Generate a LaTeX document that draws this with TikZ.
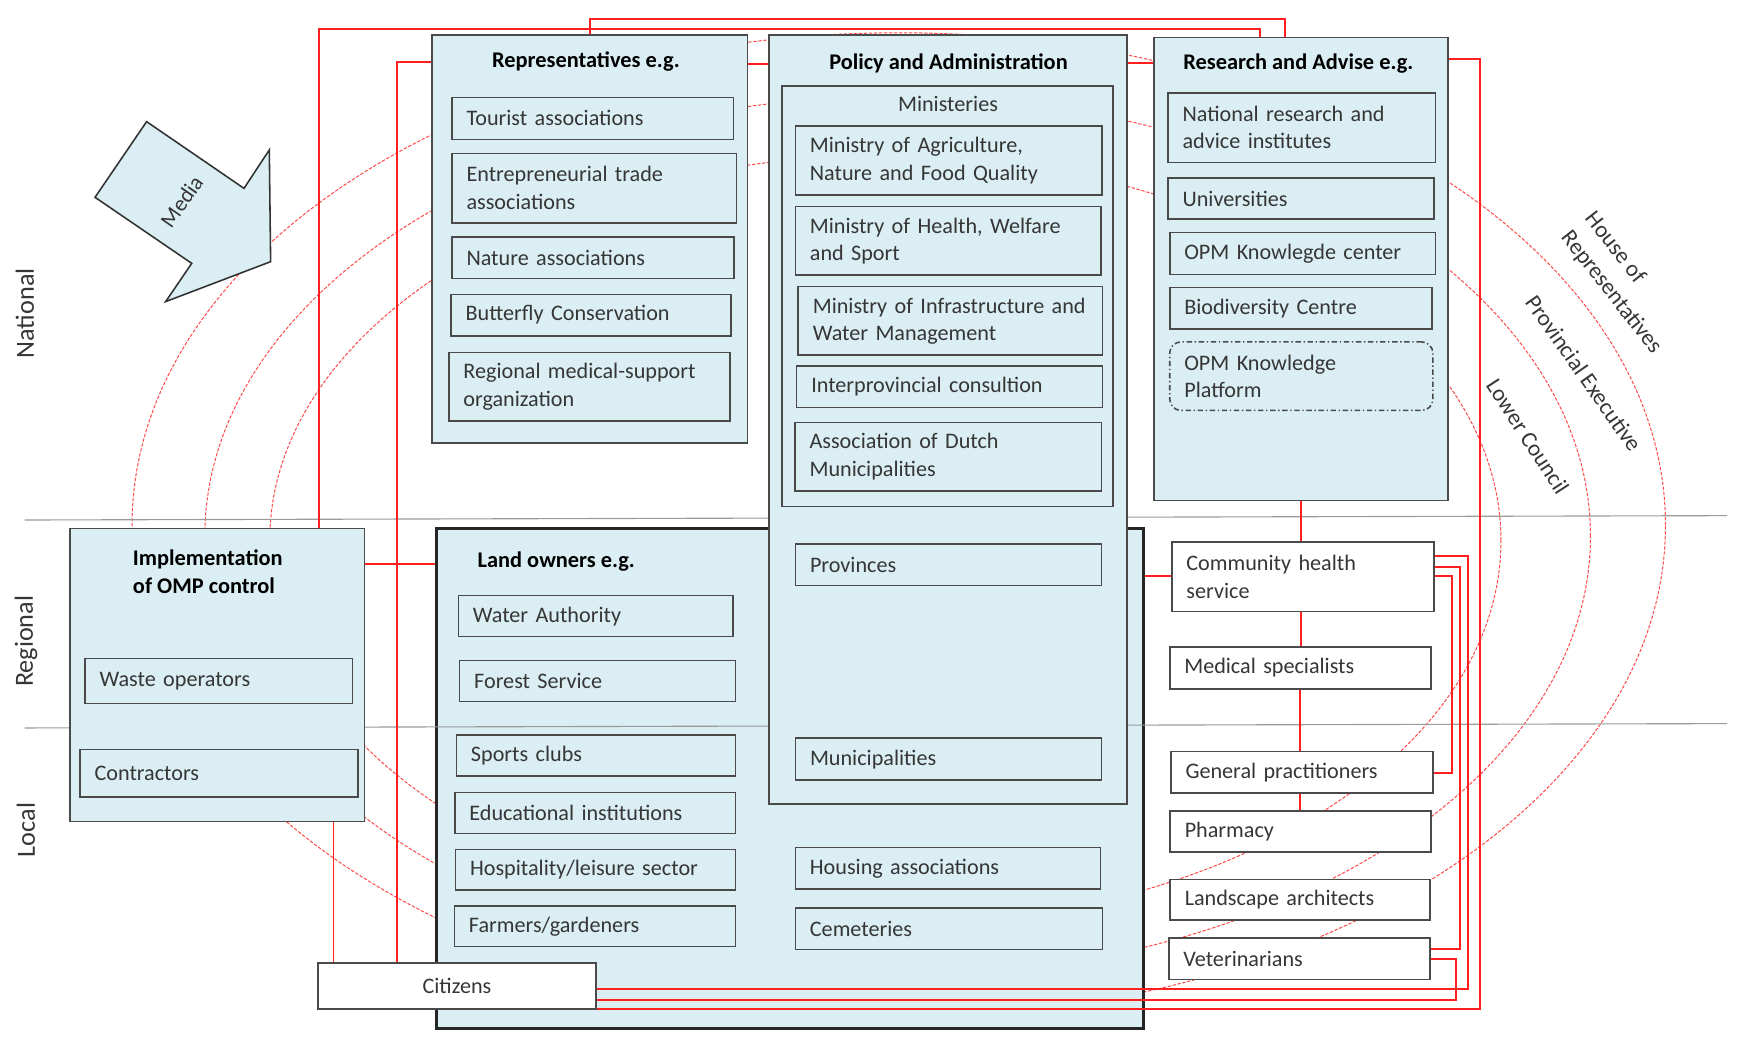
\documentclass[tikz,border=0pt]{standalone}
\usepackage{fontspec}
\setmainfont{Carlito}
\definecolor{boxfill}{HTML}{DAEEF3}
\definecolor{boxline}{HTML}{4A4A4A}
\definecolor{txt}{HTML}{363636}
\definecolor{lvl}{HTML}{9A9A9A}
\definecolor{rline}{HTML}{FF1F1F}
\definecolor{rdash}{HTML}{FF4A4A}

\newcommand\mkbox[7][]{%
  \pgfmathsetmacro\mkw{(#5-#3)*0.5}%
  \pgfmathsetmacro\mkh{(#6-#4)*0.5}%
  \pgfmathsetmacro\mktw{\mkw-13}%
  \node[#1, minimum width=\mkw pt, minimum height=\mkh pt, text width=\mktw pt]
    (#2) at ({(#3+#5)/2},{(#4+#6)/2}) {#7};%
}

\tikzset{
  sub/.style={draw=boxline, line width=0.7pt, fill=boxfill, align=left, inner xsep=6.5pt, inner ysep=1pt, text=txt, font=\fontsize{9.9}{12.2}\selectfont},
  wsub/.style={sub, fill=white},
  cont/.style={draw=boxline, line width=0.7pt, fill=boxfill, inner xsep=6.5pt, inner ysep=0pt},
  landcont/.style={draw=black!85, line width=1.2pt, fill=boxfill, inner xsep=6.5pt, inner ysep=0pt},
  platform/.style={sub, dash pattern=on 2.4pt off 1.2pt on 0.6pt off 1.2pt, rounded corners=5pt},
  ttl/.style={font=\bfseries\fontsize{10}{12.2}\selectfont, text=black, inner sep=0pt},
  plain/.style={font=\fontsize{9.9}{12.2}\selectfont, text=txt, inner sep=0pt},
  lvlline/.style={draw=lvl, line width=0.5pt},
  lvllab/.style={font=\fontsize{11.7}{14}\selectfont, text=txt, rotate=90, inner sep=0pt},
  rl/.style={draw=rline, line width=0.85pt},
  ellarc/.style={draw=rdash, line width=0.45pt, dash pattern=on 1.5pt off 0.75pt},
  bodylab/.style={font=\fontsize{10.3}{13.5}\selectfont, text=txt, align=left, inner sep=0pt},
  arrowshape/.style={draw=black!80, line width=0.7pt, fill=boxfill, line join=miter},
}

\begin{document}
\begin{tikzpicture}[x=0.5pt,y=-0.5pt]
\useasboundingbox (0,0) rectangle (1568,940);

% dashed ellipses (behind everything)
\draw[ellarc] (803,469.3) ellipse [x radius=342.5pt, y radius=220pt];
\draw[ellarc] (802,479) ellipse [x radius=309.5pt, y radius=196.5pt];
\draw[ellarc] (791,483) ellipse [x radius=275pt, y radius=172pt];

% land owners container
\mkbox[landcont]{land}{390}{472}{1021.5}{918.7}{}

% level lines
\draw[lvlline] (22,464.6) -- (1543,460.7);
\draw[lvlline] (22,650.4) -- (1543,646.5);

% containers
\mkbox[cont]{rep}{386}{31.3}{668}{396}{}
\mkbox[cont]{pol}{687}{31.3}{1006.7}{718.3}{}
\mkbox[cont]{mins}{698.5}{76.8}{994.2}{452.7}{}
\mkbox[cont]{res}{1030.8}{33.5}{1293.7}{447}{}
\mkbox[cont]{impl}{62.5}{472}{325.5}{734.1}{}

% titles
\node[ttl] (repT) at (523.5,55) {Representatives e.g.};
\node[ttl] (polT) at (847.4,56.6) {Policy and Administration};
\node[plain] (minT) at (847,92.9) {Ministeries};
\node[ttl] (resT) at (1160,56.4) {Research and Advise e.g.};
\node[ttl] (landT) at (497,501.8) {Land owners e.g.};
\node[ttl, align=left] (implT) at (185.7,510.7) {Implementation\\of OMP control};

% representatives
\mkbox[sub]{tour}{403.8}{87}{655.2}{124.5}{Tourist associations}
\mkbox[sub]{entr}{403.8}{137}{658}{199}{Entrepreneurial trade\\associations}
\mkbox[sub]{natu}{403.8}{212}{656}{248.7}{Nature associations}
\mkbox[sub]{butt}{403}{263}{653}{300}{Butterfly Conservation}
\mkbox[sub]{rmso}{401}{315}{652}{376}{Regional medical-support\\organization}

% policy
\mkbox[sub]{mag}{710.6}{112.6}{984.5}{174.2}{Ministry of Agriculture,\\Nature and Food Quality}
\mkbox[sub]{mhw}{710.6}{184.6}{983.5}{245.7}{Ministry of Health, Welfare\\and Sport}
\mkbox[sub]{miw}{713.2}{256.1}{985.2}{317.4}{\mbox{Ministry of Infrastructure and}\\Water Management}
\mkbox[sub]{ipc}{711.8}{327}{985.2}{363.9}{Interprovincial consultion}
\mkbox[sub]{adm}{710.3}{377.3}{984.3}{438.7}{Association of Dutch\\Municipalities}
\mkbox[sub]{prov}{710.7}{486}{984.2}{523.3}{Provinces}
\mkbox[sub]{muni}{710.7}{659.6}{984.2}{696.9}{Municipalities}

% research
\mkbox[sub]{nrai}{1043.6}{83.1}{1282.4}{145.1}{National research and\\advice institutes}
\mkbox[sub]{univ}{1043.6}{158.9}{1281.3}{195.9}{Universities}
\mkbox[sub]{okc}{1045.1}{207.8}{1282.4}{245.1}{OPM Knowlegde center}
\mkbox[sub]{bioc}{1045.1}{257}{1279.4}{293.7}{Biodiversity Centre}
\mkbox[platform]{okp}{1045.1}{305.5}{1280.2}{366.7}{OPM Knowledge\\Platform}

% implementation
\mkbox[sub]{waste}{76}{588.2}{315.1}{628.4}{Waste operators}
\mkbox[sub]{contr}{71.5}{669.5}{320.1}{712.3}{Contractors}

% land owners
\mkbox[sub]{wata}{409.5}{532.2}{655.1}{568.8}{Water Authority}
\mkbox[sub]{fors}{410.7}{590.2}{657.3}{626.9}{Forest Service}
\mkbox[sub]{spor}{407.8}{656.7}{657.3}{693.3}{Sports clubs}
\mkbox[sub]{educ}{406.4}{707.9}{657.3}{744.5}{Educational institutions}
\mkbox[sub]{hosp}{407}{758.8}{657.3}{795.2}{Hospitality/leisure sector}
\mkbox[sub]{farm}{406}{809.4}{657.3}{845.8}{Farmers/gardeners}
\mkbox[sub]{hous}{710.6}{757.3}{983.4}{794.5}{Housing associations}
\mkbox[sub]{ceme}{710.6}{811}{985}{848.2}{Cemeteries}

% right column
\mkbox[wsub]{chs}{1047}{484.4}{1281.3}{546.4}{Community health\\service}
\mkbox[wsub]{med}{1045.1}{578.1}{1278.7}{615.6}{Medical specialists}
\mkbox[wsub]{gp}{1046.2}{671.6}{1280.2}{708.7}{General practitioners}
\mkbox[wsub]{phar}{1045.5}{724.4}{1278.7}{761.2}{Pharmacy}
\mkbox[wsub]{lsa}{1045.5}{785.7}{1277.6}{821.9}{Landscape architects}
\mkbox[wsub]{vet}{1044.3}{838.2}{1277.6}{875}{Veterinarians}
\mkbox[wsub, align=center]{cit}{283.9}{860.6}{532.6}{901.7}{Citizens}

% red connectors
\draw[rl] (rep.north -| 527.5,0) |- (1148,17) -- (res.north -| 1148,0);
\draw[rl] (impl.north -| 285,0) |- (1126,26) -- (res.north -| 1126,0);
\draw[rl] (rep.west |- 0,55) -| (cit.north -| 355,0);
\draw[rl] (impl.south -| 298,0) -- (cit.north -| 298,0);
\draw[rl] (rep.east |- 0,57) -- (pol.west |- 0,57);
\draw[rl] (pol.east |- 0,56) -- (res.west |- 0,56);
\draw[rl] (res.east |- 0,53) -| (1322,901.5) -- (cit.east |- 0,901.5);
\draw[rl] (impl.east |- 0,504) -- (land.west |- 0,504);
\draw[rl] (res.south -| 1162,0) -- (chs.north -| 1162,0);
\draw[rl] (chs.south -| 1162,0) -- (med.north -| 1162,0);
\draw[rl] (med.south -| 1161.5,0) -- (gp.north -| 1161.5,0);
\draw[rl] (gp.south -| 1161.5,0) -- (phar.north -| 1161.5,0);
\draw[rl] (chs.west |- 0,515) -- (land.east |- 0,515);
\draw[rl] (chs.east |- 0,515) -| (1297,690.5) -- (gp.east |- 0,690.5);
\draw[rl] (chs.east |- 0,506.5) -| (1304.5,848) -- (vet.east |- 0,848);
\draw[rl] (chs.east |- 0,497) -| (1311.5,883.5) -- (cit.east |- 0,883.5);
\draw[rl] (vet.east |- 0,857) -| (1301,893.4) -- (cit.east |- 0,893.4);

% media arrow
\draw[arrowshape] (131,108.7) -- (218,168.3) -- (240.6,134) -- (241.8,233.8) -- (148,269.5) -- (171.3,235.3) -- (84.9,176.3) -- cycle;
\node[plain, rotate=55] (media) at (162.3,180) {Media};

% level labels
\node[lvllab] (natl) at (22.3,280) {National};
\node[lvllab] (regl) at (23.2,573) {Regional};
\node[lvllab] (locl) at (23.2,741.5) {Local};

% political bodies
\node[bodylab, rotate=-52] (house) at (1450,253) {House of\\Representatives};
\node[bodylab, rotate=-55] (provex) at (1415,333.5) {Provincial Executive};
\node[bodylab, rotate=-57] (lowc) at (1365,390) {Lower Council};
\end{tikzpicture}
\end{document}
